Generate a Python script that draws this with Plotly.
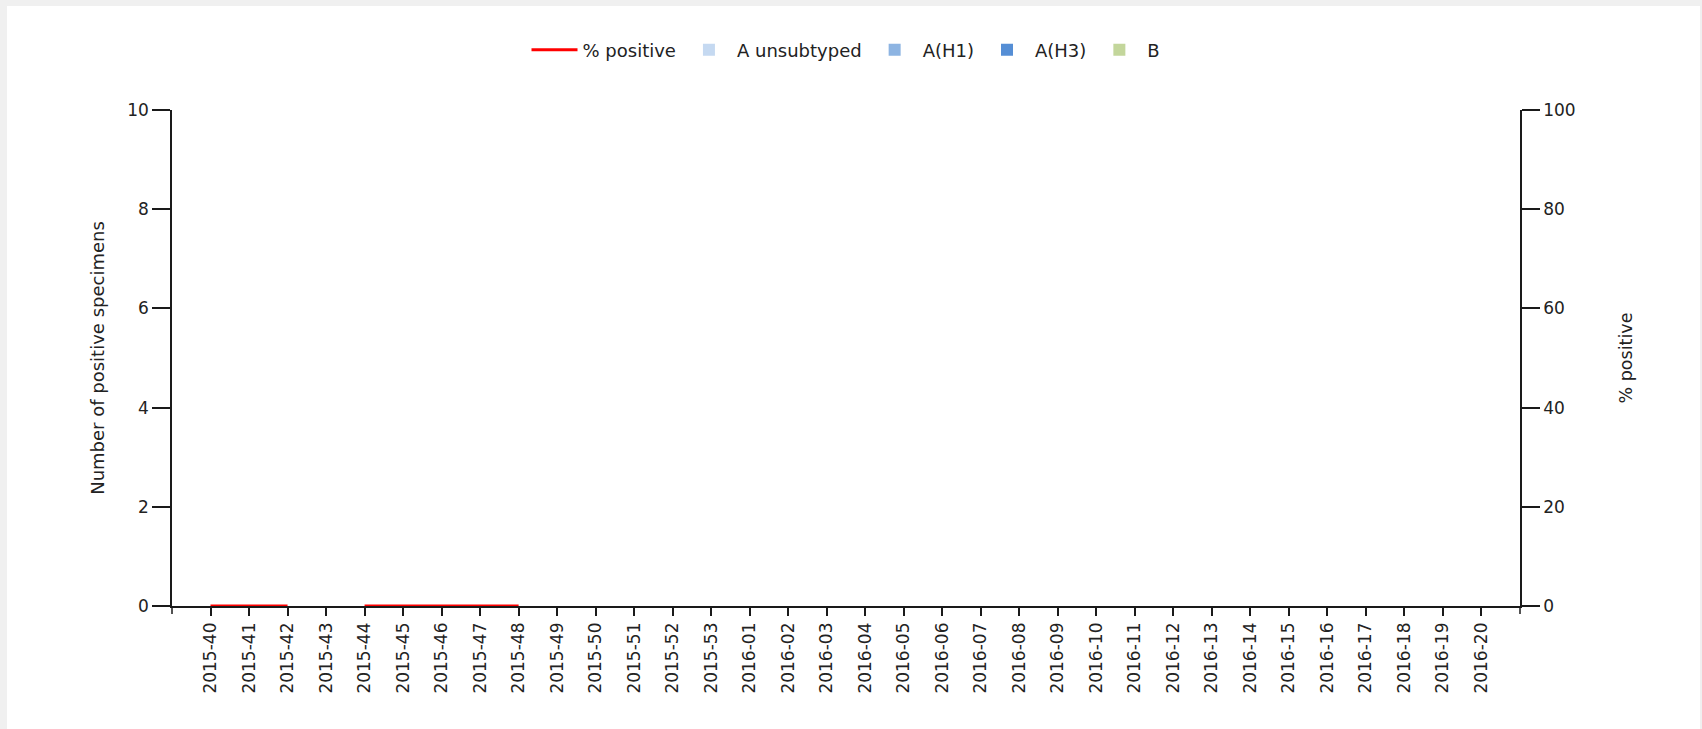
import plotly.graph_objects as go

weeks = [
    "2015-40", "2015-41", "2015-42", "2015-43", "2015-44", "2015-45", "2015-46",
    "2015-47", "2015-48", "2015-49", "2015-50", "2015-51", "2015-52", "2015-53",
    "2016-01", "2016-02", "2016-03", "2016-04", "2016-05", "2016-06", "2016-07",
    "2016-08", "2016-09", "2016-10", "2016-11", "2016-12", "2016-13", "2016-14",
    "2016-15", "2016-16", "2016-17", "2016-18", "2016-19", "2016-20",
]

a_unsubtyped = [0, 0, 0, 0, 0, 0, 0, 0, 0, 0, 0, 0, 0, 0, 0, 0, 0,
                0, 0, 0, 0, 0, 0, 0, 0, 0, 0, 0, 0, 0, 0, 0, 0, 0]
a_h1 = [0, 0, 0, 0, 0, 0, 0, 0, 0, 0, 0, 0, 0, 0, 0, 0, 0,
        0, 0, 0, 0, 0, 0, 0, 0, 0, 0, 0, 0, 0, 0, 0, 0, 0]
a_h3 = [0, 0, 0, 0, 0, 0, 0, 0, 0, 0, 0, 0, 0, 0, 0, 0, 0,
        0, 0, 0, 0, 0, 0, 0, 0, 0, 0, 0, 0, 0, 0, 0, 0, 0]
b = [0, 0, 0, 0, 0, 0, 0, 0, 0, 0, 0, 0, 0, 0, 0, 0, 0,
     0, 0, 0, 0, 0, 0, 0, 0, 0, 0, 0, 0, 0, 0, 0, 0, 0]
pct_positive = [0, 0, 0, None, 0, 0, 0, 0, 0, None, None, None, None, None,
                None, None, None, None, None, None, None, None, None, None,
                None, None, None, None, None, None, None, None, None, None]

FONT = "DejaVu Sans"
TXT = "#222222"
AX = "#1a1a1a"
PLOT_H = 729 - 110 - 123

fig = go.Figure()

fig.add_trace(go.Scatter(
    x=weeks, y=pct_positive, name="% positive", yaxis="y2",
    mode="lines", line=dict(color="#ff0000", width=3), connectgaps=False,
))
for name, vals, col in [
    ("A unsubtyped", a_unsubtyped, "#c5d9f1"),
    ("A(H1)", a_h1, "#8db4e2"),
    ("A(H3)", a_h3, "#558ed5"),
    ("B", b, "#c3d69b"),
]:
    fig.add_trace(go.Bar(x=weeks, y=vals, name=name,
                         marker=dict(color=col, line=dict(width=0))))

# page frame: white panel over light-gray page
fig.add_shape(type="rect", xref="paper", yref="paper",
              x0=-0.1224, x1=1.1335, y0=-0.30, y1=(606 - 6) / PLOT_H,
              fillcolor="white", line=dict(width=0), layer="below")
# y-axis lines continue slightly below the x axis
for xp in (0, 1):
    fig.add_shape(type="line", xref="paper", yref="paper",
                  x0=xp, x1=xp, y0=0, y1=-8 / PLOT_H,
                  line=dict(color=AX, width=1.5))

fig.update_layout(
    width=1702, height=729,
    margin=dict(l=172, r=182, t=110, b=123, autoexpand=False),
    paper_bgcolor="#f0f0f0", plot_bgcolor="white",
    barmode="stack",
    font=dict(family=FONT, size=17, color=TXT),
    showlegend=True,
    legend=dict(orientation="h", x=0.5, xanchor="center",
                y=(606 - 50) / PLOT_H, yanchor="middle",
                font=dict(family=FONT, size=18, color=TXT), traceorder="normal",
                bgcolor="rgba(0,0,0,0)", itemwidth=46),
    xaxis=dict(
        type="category", categoryorder="array", categoryarray=weeks,
        range=[-1, 34], showgrid=False, zeroline=False,
        showline=True, linecolor=AX, linewidth=1.5,
        ticks="outside", ticklen=8, tickcolor=AX, tickwidth=1.5,
        tickangle=-90, tickfont=dict(family=FONT, size=17, color=TXT),
    ),
    yaxis=dict(
        range=[0, 10], dtick=2, showgrid=False, zeroline=False,
        showline=True, linecolor=AX, linewidth=1.5,
        ticks="outside", ticklen=18, tickcolor=AX, tickwidth=1.5,
        tickfont=dict(family=FONT, size=17, color=TXT),
        title=dict(text="Number of positive specimens", standoff=18,
                   font=dict(family=FONT, size=18, color=TXT)),
    ),
    yaxis2=dict(
        range=[0, 100], dtick=20, overlaying="y", side="right",
        showgrid=False, zeroline=False,
        showline=True, linecolor=AX, linewidth=1.5,
        ticks="outside", ticklen=18, tickcolor=AX, tickwidth=1.5,
        tickfont=dict(family=FONT, size=17, color=TXT),
        title=dict(text="% positive", standoff=45,
                   font=dict(family=FONT, size=17.5, color=TXT)),
    ),
)

fig.write_html(
    "out.html",
    config={"displayModeBar": False},
    post_script="document.body.style.margin='0';"
                "document.body.style.background='#f0f0f0';",
)
